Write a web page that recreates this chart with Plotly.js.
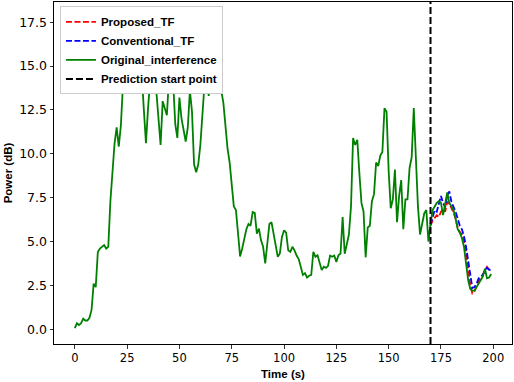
<!DOCTYPE html>
<html>
<head>
<meta charset="utf-8">
<script src="https://cdn.plot.ly/plotly-3.0.1.min.js"></script>
<style>
  html, body { margin: 0; padding: 0; background: #fff; }
  #chart { width: 514px; height: 382px; }
</style>
</head>
<body>
<div id="chart"></div>
<script>
// measured interference, 1 s steps from t = 0
const original = [
  0.06, 0.34, 0.24, 0.35, 0.6, 0.5, 0.5, 0.65, 1.1, 2.6,
  2.4, 4.4, 4.6, 4.7, 4.8, 4.6, 4.7, 7.3, 9.0, 10.6,
  11.5, 10.4, 11.6, 13.9, 15.2, 16.1, 15.4, 16.8, 17.3, 16.2,
  15.0, 15.6, 14.5, 12.5, 10.6, 12.6, 14.2, 15.0, 14.0, 13.5,
  11.8, 10.5, 13.0, 12.6, 12.2, 14.3, 15.5, 14.1, 11.7, 10.9,
  13.2, 12.0, 11.3, 10.7, 11.5, 13.6, 12.4, 9.4, 8.95, 9.4,
  10.5, 12.4, 14.0, 14.6, 13.3, 14.8, 16.0, 17.0, 16.3, 15.0,
  13.6, 12.9, 11.6, 10.3, 9.5, 8.3, 7.0, 6.8, 5.2, 4.15,
  4.6, 5.2, 5.7, 6.0, 5.9, 6.68, 6.63, 5.45, 5.74, 5.07,
  4.7, 3.75, 4.9, 6.0, 6.11, 5.4, 4.7, 4.13, 4.32, 5.26,
  5.64, 5.5, 4.5, 4.41, 4.7, 4.5, 4.2, 4.0, 3.56, 3.1,
  3.2, 2.95, 3.05, 3.1, 4.41, 4.13, 4.22, 3.75, 3.37, 3.56,
  3.5, 3.6, 4.2, 4.13, 4.2, 3.84, 4.22, 4.32, 6.4, 4.3,
  4.9, 5.4, 7.0, 10.9, 10.5, 10.8, 8.9, 7.2, 6.7, 4.1,
  5.8, 5.9, 7.3, 7.7, 9.5, 9.3, 9.9, 10.1, 12.6, 12.4,
  9.0, 6.9, 7.4, 9.1, 6.1, 7.6, 8.5, 5.7, 7.4, 7.4,
  9.2, 9.8, 12.6, 9.3, 7.0, 5.4, 6.0, 6.6, 6.8, 5.0,
  6.0, 6.8, 7.0, 7.2, 7.3, 7.2, 6.5, 7.2, 7.8, 7.2,
  7.0, 6.8, 6.3, 5.7, 5.5, 5.2, 4.7, 3.8, 2.8, 2.3,
  2.2, 2.2, 2.4, 2.6, 2.8, 3.0, 3.45, 2.9, 2.95, 3.15
];

// predictions from t = 170
const predStart = 170;
const proposed = [
  5.9, 6.2, 6.35, 6.5, 6.4, 6.7, 6.85, 6.7, 7.25, 7.15,
  6.9, 6.65, 6.3, 5.8, 5.55, 5.4, 5.0, 4.4, 3.4, 2.5,
  2.05, 2.15, 2.45, 2.75, 2.9, 3.1, 3.3, 3.55, 3.4, 3.35
];
const conventional = [
  5.95, 6.35, 6.8, 6.7, 7.1, 7.6, 7.2, 6.95, 7.6, 7.85,
  7.25, 7.0, 6.7, 6.3, 5.9, 5.7, 5.3, 4.7, 3.9, 2.9,
  2.35, 2.4, 2.6, 2.9, 3.0, 3.1, 3.35, 3.5, 3.4, 3.35
];

const timeAll = original.map((v, i) => i);
const timePred = proposed.map((v, i) => predStart + i);

const xRange = [-9.95, 208.95];
const yRange = [-0.84, 18.65];

const boldFont = {family: 'Liberation Sans, Arial', size: 11.5, color: '#000'};

const traces = [
  {
    x: timePred, y: proposed, name: '<b>Proposed_TF</b>',
    mode: 'lines', line: {color: '#ff0000', width: 1.8, dash: '6px,2.5px'}
  },
  {
    x: timePred, y: conventional, name: '<b>Conventional_TF</b>',
    mode: 'lines', line: {color: '#0000ff', width: 1.8, dash: '6px,2.5px'}
  },
  {
    x: timeAll, y: original, name: '<b>Original_interference</b>',
    mode: 'lines', line: {color: '#008000', width: 1.8}
  },
  {
    x: [predStart, predStart], y: yRange, name: '<b>Prediction start point</b>',
    mode: 'lines', line: {color: '#000', width: 2, dash: '7px,3px'}
  }
];

const layout = {
  width: 514,
  height: 382,
  margin: {l: 54, r: 2, t: 2, b: 38},
  paper_bgcolor: '#fff',
  plot_bgcolor: '#fff',
  showlegend: true,
  legend: {
    x: 0.013, y: 0.987, xanchor: 'left', yanchor: 'top',
    bgcolor: '#ffffff', bordercolor: '#cccccc', borderwidth: 1,
    font: {family: 'Liberation Sans, Arial', size: 11.5, color: '#000'},
    tracegroupgap: 0
  },
  xaxis: {
    range: xRange, tick0: 0, dtick: 25,
    ticks: 'outside', ticklen: 3.5, tickwidth: 0.8, tickcolor: '#000',
    showline: true, linecolor: '#000', linewidth: 1, mirror: true,
    showgrid: false, zeroline: false,
    tickfont: {family: 'DejaVu Sans', size: 11.5, color: '#000'},
    title: {text: '<b>Time (s)</b>', font: boldFont, standoff: 5}
  },
  yaxis: {
    range: yRange, tick0: 0, dtick: 2.5, tickformat: '.1f',
    ticks: 'outside', ticklen: 3.5, tickwidth: 0.8, tickcolor: '#000',
    showline: true, linecolor: '#000', linewidth: 1, mirror: true,
    showgrid: false, zeroline: false,
    tickfont: {family: 'DejaVu Sans', size: 12.5, color: '#000'},
    title: {text: '<b>Power (dB)</b>', font: boldFont, standoff: 4}
  }
};

Plotly.newPlot('chart', traces, layout, {displayModeBar: false, staticPlot: true});
</script>
</body>
</html>
